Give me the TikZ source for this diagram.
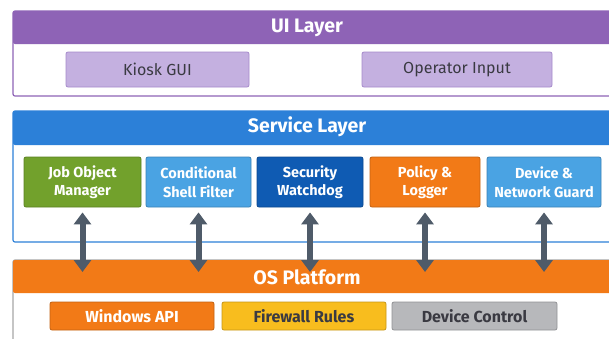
\documentclass[tikz,border=0pt]{standalone}
\usepackage{fontspec}
\setmainfont{Fira Sans}
\usetikzlibrary{arrows.meta}

\definecolor{uiPurple}{HTML}{8E63B6}
\definecolor{uiLight}{HTML}{C4B0E0}
\definecolor{uiEdge}{HTML}{A68BCB}
\definecolor{svBlue}{HTML}{2C80D8}
\definecolor{svLight}{HTML}{4AA3E3}
\definecolor{svDark}{HTML}{0F5BB3}
\definecolor{jobGreen}{HTML}{72A12C}
\definecolor{osOrange}{HTML}{F27A17}
\definecolor{fwYellow}{HTML}{F8BD1E}
\definecolor{devGray}{HTML}{B7B8BB}
\definecolor{arrowGray}{HTML}{4F5B69}
\definecolor{txtGray}{HTML}{3A3A42}

\tikzset{
  headtext/.style={text=white,font=\fontsize{19.5}{22}\selectfont\bfseries},
  uibox/.style={draw=uiEdge,fill=uiLight,rounded corners=2pt,line width=0.8pt,
    text=txtGray,font=\fontsize{16}{19}\selectfont},
  svbox/.style={draw=#1!80!black,fill=#1,rounded corners=2pt,line width=0.8pt,
    minimum height=50,text=white,align=center,inner xsep=2pt,
    font=\fontsize{14.5}{18.5}\selectfont\bfseries},
  osbox/.style={draw=#1!80!black,fill=#1,rounded corners=2pt,line width=0.8pt,
    minimum height=28,minimum width=164,font=\fontsize{16}{19}\selectfont\bfseries},
  dArrow/.style={{Triangle[width=17pt,length=12pt]}-{Triangle[width=17pt,length=12pt]},
    line width=6pt,arrowGray}
}

\begin{document}
\begin{tikzpicture}[x=1pt,y=-1pt]
\useasboundingbox (0,0) rectangle (609,338);
\def\xl{13} \def\xr{640} % layers run past the right edge

% UI layer
\draw[uiPurple,line width=1.2pt,rounded corners=2pt,fill=white] (\xl,11) rectangle (\xr,96);
\fill[uiPurple,rounded corners=2pt] (\xl,11) rectangle (\xr,44);
\node[headtext] (uiTitle) at (307,28) {UI Layer};
\node[uibox,minimum width=183,minimum height=35] (kiosk) at (157.5,69.5) {Kiosk GUI};
\node[uibox,minimum width=190,minimum height=35] (operator) at (457,69.5) {Operator Input};

% Service layer
\draw[svBlue,line width=1.2pt,rounded corners=2pt,fill=white] (\xl,111) rectangle (\xr,242);
\fill[svBlue,rounded corners=2pt] (\xl,111) rectangle (\xr,145);
\node[headtext] (svTitle) at (307,127) {Service Layer};
\node[svbox=jobGreen,minimum width=117] (job) at (82.5,182) {Job Object\\Manager};
\node[svbox=svLight,minimum width=105] (shell) at (198.5,182) {Conditional\\Shell Filter};
\node[svbox=svDark,minimum width=106] (watch) at (310,182) {Security\\Watchdog};
\node[svbox=osOrange,minimum width=110] (policy) at (425,182) {Policy \&\\Logger};
\node[svbox=svLight,minimum width=114] (guard) at (544,182) {Device \&\\Network Guard};

% OS platform
\draw[gray!70,line width=1.2pt,rounded corners=2pt,fill=white] (\xl,260) rectangle (\xr,360);
\fill[osOrange,rounded corners=2pt] (\xl,260) rectangle (\xr,293);
\node[headtext] (osTitle) at (307,277) {OS Platform};
\node[osbox=osOrange,text=white] (winapi) at (132,316) {Windows API};
\node[osbox=fwYellow,text=txtGray] (firewall) at (304,316) {Firewall Rules};
\node[osbox=devGray,text=txtGray,minimum width=165] (devctl) at (474.5,316) {Device Control};

% links between the layers
\coordinate (osTip) at (0,272);
\foreach \b in {job,shell,watch,policy,guard}
  \draw[dArrow] ([yshift=-5pt]\b.south) -- (\b.south |- osTip);
\end{tikzpicture}
\end{document}
